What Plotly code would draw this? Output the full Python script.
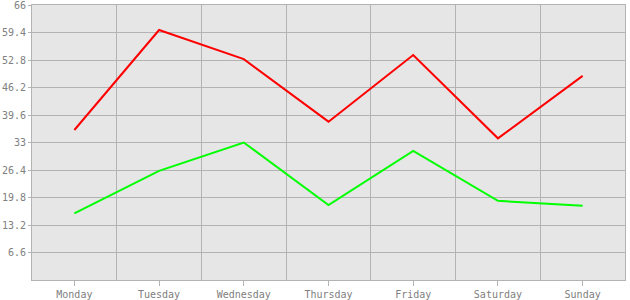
import plotly.graph_objects as go

days = ["Monday", "Tuesday", "Wednesday", "Thursday", "Friday", "Saturday", "Sunday"]
red_vals = [36.0, 60.0, 53.0, 38.0, 54.0, 34.0, 49.0]
green_vals = [16.0, 26.2, 33.0, 18.0, 31.0, 19.0, 17.8]
y_ticks = [6.6, 13.2, 19.8, 26.4, 33, 39.6, 46.2, 52.8, 59.4, 66]
y_labels = ["6.6", "13.2", "19.8", "26.4", "33", "39.6", "46.2", "52.8", "59.4", "66"]

xs = list(range(len(days)))
fig = go.Figure()
fig.add_trace(go.Scatter(x=xs, y=red_vals, mode="lines", line=dict(color="#ff0000", width=2), showlegend=False))
fig.add_trace(go.Scatter(x=xs, y=green_vals, mode="lines", line=dict(color="#00ff00", width=2), showlegend=False))

font = dict(family="DejaVu Sans Mono", size=10, color="#808080")
fig.update_layout(
    width=630, height=300,
    margin=dict(l=32, r=5, t=5, b=20),
    paper_bgcolor="white", plot_bgcolor="#e6e6e6",
    font=font,
    xaxis=dict(range=[-0.5, 6.5], tickvals=xs, ticktext=days, showgrid=False,
               ticks="outside", ticklen=5, tickcolor="#b3b3b3", tickwidth=1,
               showline=True, linecolor="#b3b3b3", linewidth=1, mirror=True,
               zeroline=False, tickfont=font, automargin=False, ticklabeloverflow="allow",
               minor=dict(tick0=0.5, dtick=1, showgrid=True, gridcolor="#b3b3b3", gridwidth=1, ticklen=0)),
    yaxis=dict(range=[0, 66], tickvals=y_ticks, ticktext=y_labels, showgrid=True,
               gridcolor="#b3b3b3", gridwidth=1, ticks="outside", ticklen=3,
               tickcolor="#b3b3b3", showline=True, linecolor="#b3b3b3", linewidth=1,
               mirror=True, zeroline=False, tickfont=font, automargin=False,
               ticklabeloverflow="allow"),
)
fig.write_html("out.html")
